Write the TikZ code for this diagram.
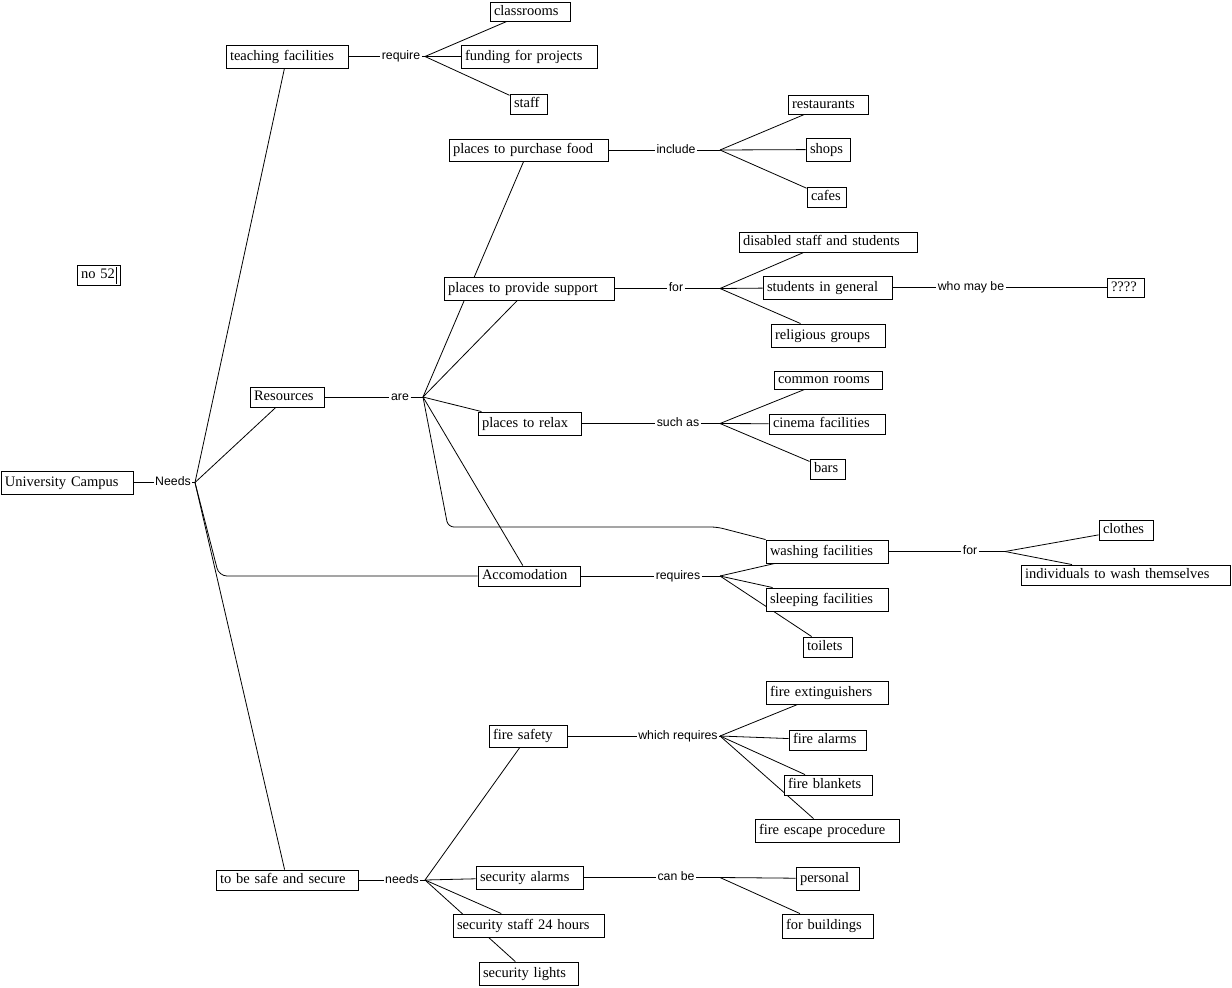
\documentclass[tikz,border=0pt]{standalone}
\usepackage{fontspec}
\setmainfont{Liberation Serif}
\setsansfont{Liberation Sans}
\usetikzlibrary{backgrounds}
\tikzset{
  concept/.style={draw=black, line width=0.9pt, fill=white, rectangle, inner xsep=4pt, inner ysep=0pt,
    font=\fontsize{14.5}{16}\selectfont, text height=10pt, text depth=3pt, anchor=center},
  lbl/.style={inner sep=1.5pt, font=\sffamily\fontsize{12.3}{14}\selectfont, text height=9pt, text depth=2.5pt},
  conn/.style={draw=black, line width=0.8pt},
}
\newcommand\cbox[6]{%
  \pgfmathsetmacro\cbw{#4-#2}\pgfmathsetmacro\cbh{#5-#3}%
  \pgfmathsetmacro\cbt{#4-#2-8}%
  \pgfmathsetmacro\cbx{(#2+#4)/2}\pgfmathsetmacro\cby{(#3+#5)/2}%
  \node[concept, minimum width=\cbw pt, minimum height=\cbh pt, text width=\cbt pt] (#1) at (\cbx,\cby) {\mbox{#6}};%
}
\begin{document}
\begin{tikzpicture}[x=1pt,y=-1pt]
\useasboundingbox (0,0) rectangle (1232,988);
% concepts
\cbox{uc}{1}{471}{133}{494}{University Campus}
\cbox{no}{77}{265}{120}{285}{no 52}
\cbox{tf}{226}{45}{348}{68}{teaching facilities}
\cbox{cls}{490}{2}{570}{21}{classrooms}
\cbox{fund}{461}{45}{597}{68}{funding for projects}
\cbox{staff}{510}{94}{547}{114}{staff}
\cbox{food}{449}{139}{608}{161}{places to purchase food}
\cbox{rest}{788}{95}{868}{114}{restaurants}
\cbox{shops}{806}{138}{850}{161}{shops}
\cbox{cafes}{807}{187}{846}{207}{cafes}
\cbox{dis}{739}{232}{917}{252}{disabled staff and students}
\cbox{sup}{444}{277}{614}{300}{places to provide support}
\cbox{stu}{763}{276}{892}{299}{students in general}
\cbox{q}{1107}{278}{1144}{297}{????}
\cbox{rel}{771}{324}{885}{347}{religious groups}
\cbox{com}{774}{371}{882}{389}{common rooms}
\cbox{res}{250}{387}{324}{407}{Resources}
\cbox{relax}{478}{412}{581}{435}{places to relax}
\cbox{cin}{769}{414}{885}{434}{cinema facilities}
\cbox{bars}{810}{459}{845}{479}{bars}
\cbox{clo}{1099}{520}{1153}{540}{clothes}
\cbox{wash}{766}{540}{888}{563}{washing facilities}
\cbox{ind}{1021}{565}{1230}{585}{individuals to wash themselves}
\cbox{acc}{478}{566}{580}{586}{Accomodation}
\cbox{sleep}{766}{588}{888}{611}{sleeping facilities}
\cbox{toil}{803}{637}{852}{657}{toilets}
\cbox{ext}{766}{681}{888}{704}{fire extinguishers}
\cbox{fs}{489}{725}{567}{747}{fire safety}
\cbox{fal}{789}{730}{866}{750}{fire alarms}
\cbox{fbl}{784}{775}{872}{795}{fire blankets}
\cbox{fesc}{755}{819}{899}{842}{fire escape procedure}
\cbox{safe}{216}{870}{358}{890}{to be safe and secure}
\cbox{sal}{476}{866}{583}{889}{security alarms}
\cbox{pers}{796}{867}{859}{890}{personal}
\cbox{sst}{453}{914}{604}{937}{security staff 24 hours}
\cbox{fbu}{782}{914}{873}{938}{for buildings}
\cbox{sli}{479}{962}{578}{985}{security lights}
\draw[line width=0.6pt] (116,267) -- (116,284);
% linking phrases
\node[lbl] (lneeds) at (173,482.5) {Needs};
\node[lbl] (lreq) at (401,56.5) {require};
\node[lbl] (lare) at (400,397) {are};
\node[lbl] (linc) at (676,150) {include};
\node[lbl] (lfor) at (676,288.5) {for};
\node[lbl] (lwho) at (971,287.5) {who may be};
\node[lbl] (lsuch) at (678,423.5) {such as};
\node[lbl] (lreqs) at (678,576) {requires};
\node[lbl] (lforw) at (970,551.5) {for};
\node[lbl] (lwhich) at (678,736) {which requires};
\node[lbl] (lneedsb) at (402,880) {needs};
\node[lbl] (lcan) at (676,877.5) {can be};
% junctions
\coordinate (nj) at (195,482.5);
\coordinate (rqj) at (425,56.5);
\coordinate (arej) at (423,397);
\coordinate (incj) at (720,150);
\coordinate (forj) at (720,288.5);
\coordinate (sucj) at (720,423.5);
\coordinate (reqj) at (720,576);
\coordinate (forwj) at (1005,551.5);
\coordinate (whj) at (720,736);
\coordinate (ndj) at (425,880);
\coordinate (canj) at (720,877.5);
\coordinate (accbend) at (219,576);
\coordinate (washbendA) at (448,527);
\coordinate (washbendB) at (717,527);
\begin{pgfonlayer}{background}
\fill[white] (0,0) rectangle (1232,988);
\draw[conn] (uc.east) -- (lneeds.west);
\draw[conn] (lneeds.east) -- (nj);
\draw[conn] (nj) -- (tf);
\draw[conn] (nj) -- (res);
\draw[conn] (nj) -- (safe);
\draw[conn, rounded corners=8pt] (nj) -- (accbend) -- (acc.west);
\draw[conn] (tf.east) -- (lreq.west);
\draw[conn] (lreq.east) -- (rqj);
\draw[conn] (rqj) -- (cls);
\draw[conn] (rqj) -- (fund);
\draw[conn] (rqj) -- (staff);
\draw[conn] (res.east) -- (lare.west);
\draw[conn] (lare.east) -- (arej);
\draw[conn] (arej) -- (food);
\draw[conn] (arej) -- (sup);
\draw[conn] (arej) -- (relax);
\draw[conn] (arej) -- (acc);
\draw[conn, rounded corners=6pt] (arej) -- (washbendA) -- (washbendB) -- (wash.north west);
\draw[conn] (food.east) -- (linc.west);
\draw[conn] (linc.east) -- (incj);
\draw[conn] (incj) -- (rest);
\draw[conn] (incj) -- (shops);
\draw[conn] (incj) -- (cafes);
\draw[conn] (sup.east) -- (lfor.west);
\draw[conn] (lfor.east) -- (forj);
\draw[conn] (forj) -- (dis);
\draw[conn] (forj) -- (stu);
\draw[conn] (forj) -- (rel);
\draw[conn] (stu.east) -- (lwho.west);
\draw[conn] (lwho.east) -- (q.west);
\draw[conn] (relax.east) -- (lsuch.west);
\draw[conn] (lsuch.east) -- (sucj);
\draw[conn] (sucj) -- (com);
\draw[conn] (sucj) -- (cin);
\draw[conn] (sucj) -- (bars);
\draw[conn] (acc.east) -- (lreqs.west);
\draw[conn] (lreqs.east) -- (reqj);
\draw[conn] (reqj) -- (wash);
\draw[conn] (reqj) -- (sleep);
\draw[conn] (reqj) -- (toil);
\draw[conn] (wash.east) -- (lforw.west);
\draw[conn] (lforw.east) -- (forwj);
\draw[conn] (forwj) -- (clo);
\draw[conn] (forwj) -- (ind);
\draw[conn] (fs.east) -- (lwhich.west);
\draw[conn] (lwhich.east) -- (whj);
\draw[conn] (whj) -- (ext);
\draw[conn] (whj) -- (fal);
\draw[conn] (whj) -- (fbl);
\draw[conn] (whj) -- (fesc);
\draw[conn] (safe.east) -- (lneedsb.west);
\draw[conn] (lneedsb.east) -- (ndj);
\draw[conn] (ndj) -- (fs);
\draw[conn] (ndj) -- (sal);
\draw[conn] (ndj) -- (sst);
\draw[conn] (ndj) -- (sli);
\draw[conn] (sal.east) -- (lcan.west);
\draw[conn] (lcan.east) -- (canj);
\draw[conn] (canj) -- (pers);
\draw[conn] (canj) -- (fbu);
\end{pgfonlayer}
\end{tikzpicture}
\end{document}
